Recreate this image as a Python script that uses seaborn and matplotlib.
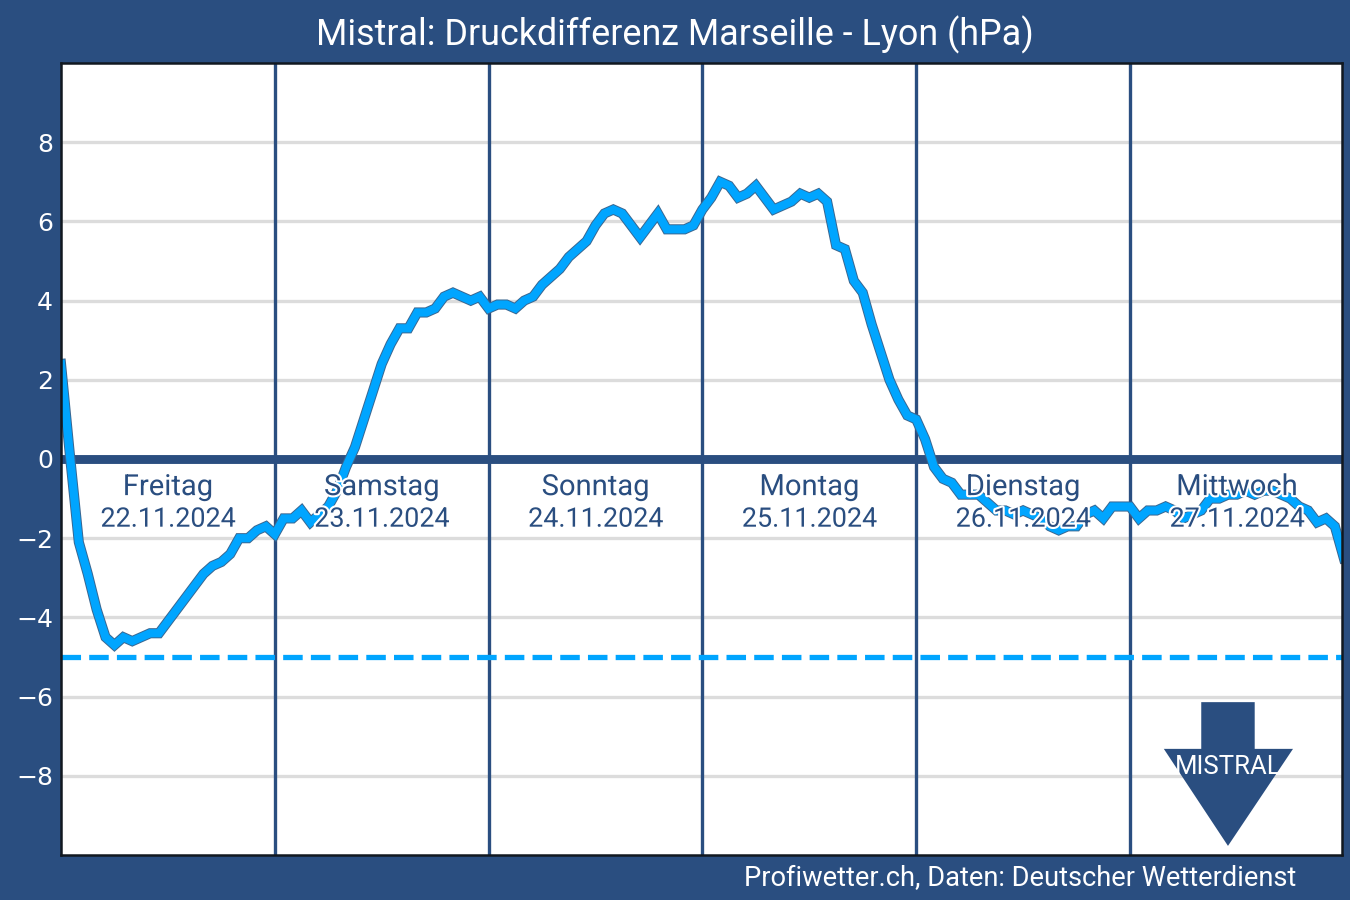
import numpy as np
import pandas as pd
import matplotlib
matplotlib.use("Agg")
import matplotlib.pyplot as plt
import matplotlib.patheffects as pe
from matplotlib.patches import Polygon
import seaborn as sns

pressure_diff = [
    2.4, 0.1, -2.1, -2.9, -3.8, -4.5, -4.7, -4.5, -4.6, -4.5, -4.4, -4.4,
    -4.1, -3.8, -3.5, -3.2, -2.9, -2.7, -2.6, -2.4, -2.0, -2.0, -1.8, -1.7,
    -1.9, -1.5, -1.5, -1.3, -1.6, -1.4, -1.2, -0.8, -0.2, 0.3, 1.0, 1.7,
    2.4, 2.9, 3.3, 3.3, 3.7, 3.7, 3.8, 4.1, 4.2, 4.1, 4.0, 4.1,
    3.8, 3.9, 3.9, 3.8, 4.0, 4.1, 4.4, 4.6, 4.8, 5.1, 5.3, 5.5,
    5.9, 6.2, 6.3, 6.2, 5.9, 5.6, 5.9, 6.2, 5.8, 5.8, 5.8, 5.9,
    6.3, 6.6, 7.0, 6.9, 6.6, 6.7, 6.9, 6.6, 6.3, 6.4, 6.5, 6.7,
    6.6, 6.7, 6.5, 5.4, 5.3, 4.5, 4.2, 3.4, 2.7, 2.0, 1.5, 1.1,
    1.0, 0.5, -0.2, -0.5, -0.6, -0.9, -0.9, -0.9, -1.1, -1.3, -1.3, -1.4,
    -1.3, -1.4, -1.5, -1.7, -1.8, -1.7, -1.7, -1.4, -1.3, -1.5, -1.2, -1.2,
    -1.2, -1.5, -1.3, -1.3, -1.2, -1.3, -1.5, -1.4, -1.3, -1.0, -1.0, -0.9,
    -0.9, -0.8, -0.9, -0.8, -0.8, -0.9, -1.0, -1.2, -1.3, -1.6, -1.5, -1.7,
    -2.5,
]
hours = list(range(len(pressure_diff)))
day_names = ["Freitag", "Samstag", "Sonntag", "Montag", "Dienstag", "Mittwoch"]
day_dates = ["22.11.2024", "23.11.2024", "24.11.2024", "25.11.2024", "26.11.2024", "27.11.2024"]
y_ticks = [-8, -6, -4, -2, 0, 2, 4, 6, 8]
mistral_threshold = -5

NAVY = "#2A4E80"
BLUE = "#00A5FF"
GRID = "#DCDCDC"

sns.set_theme(style="white")
plt.rcParams["font.family"] = ["Roboto", "DejaVu Sans"]

fig = plt.figure(figsize=(13.5, 9), dpi=100, facecolor=NAVY)
ax = fig.add_axes([61 / 1350, 1 - 855 / 900, (1342 - 61) / 1350, (855 - 63) / 900])
ax.set_facecolor("white")

df = pd.DataFrame({"hour": hours, "diff": pressure_diff})

for t in y_ticks:
    if t != 0:
        ax.axhline(t, color=GRID, lw=2.4, zorder=1)
for d in range(1, 6):
    ax.axvline(d * 24, color=NAVY, lw=2.4, zorder=2)
ax.axhline(0, color=NAVY, lw=6.4, zorder=3)
ax.axhline(mistral_threshold, color=BLUE, lw=3.8, ls=(0, (3.7, 1.55)), zorder=3)

sns.lineplot(data=df, x="hour", y="diff", ax=ax, color=BLUE, lw=5.9, zorder=4,
             solid_joinstyle="miter", solid_capstyle="projecting",
             path_effects=[pe.Stroke(linewidth=7.3, foreground="#3A6690"), pe.Normal()])

halo = [pe.withStroke(linewidth=3, foreground="white")]
for i, (name, date) in enumerate(zip(day_names, day_dates)):
    ax.text(i * 24 + 12, -0.71, name, color=NAVY, fontsize=21, ha="center", va="center",
            zorder=5, path_effects=halo)
    ax.text(i * 24 + 12, -1.52, date, color=NAVY, fontsize=19.4, ha="center", va="center",
            zorder=5, path_effects=halo)

# Mistral arrow
arrow = Polygon([(128.0, -6.14), (134.0, -6.14), (134.0, -7.32), (138.3, -7.32),
                 (131.0, -9.77), (123.8, -7.32), (128.0, -7.32)],
                closed=True, fc=NAVY, ec="none", zorder=5)
ax.add_patch(arrow)
ax.text(131.0, -7.79, "MISTRAL", color="white", fontsize=18.5, ha="center", va="center", zorder=6)

ax.set_xlim(0, 143.8)
ax.set_ylim(-10, 10)
ax.set_xlabel("")
ax.set_ylabel("")
ax.set_yticks(y_ticks)
ax.set_xticks([24 * d for d in range(1, 6)])
ax.set_xticklabels([])
ax.tick_params(axis="y", length=0, pad=5.6, labelsize=18, labelcolor="white")
ax.tick_params(axis="x", length=0)
for lab in ax.get_yticklabels():
    lab.set_fontfamily("DejaVu Sans")
for s in ax.spines.values():
    s.set_visible(True)
    s.set_color("#111820")
    s.set_linewidth(1.8)
    s.set_zorder(7)

fig.text(674.5 / 1350, 1 - 35 / 900, "Mistral: Druckdifferenz Marseille - Lyon (hPa)",
         color="white", fontsize=25.8, ha="center", va="center")
fig.text(1296 / 1350, 1 - 879 / 900, "Profiwetter.ch, Daten: Deutscher Wetterdienst",
         color="white", fontsize=19.6, ha="right", va="center")

fig.savefig("out.png", dpi=100, facecolor=NAVY)
